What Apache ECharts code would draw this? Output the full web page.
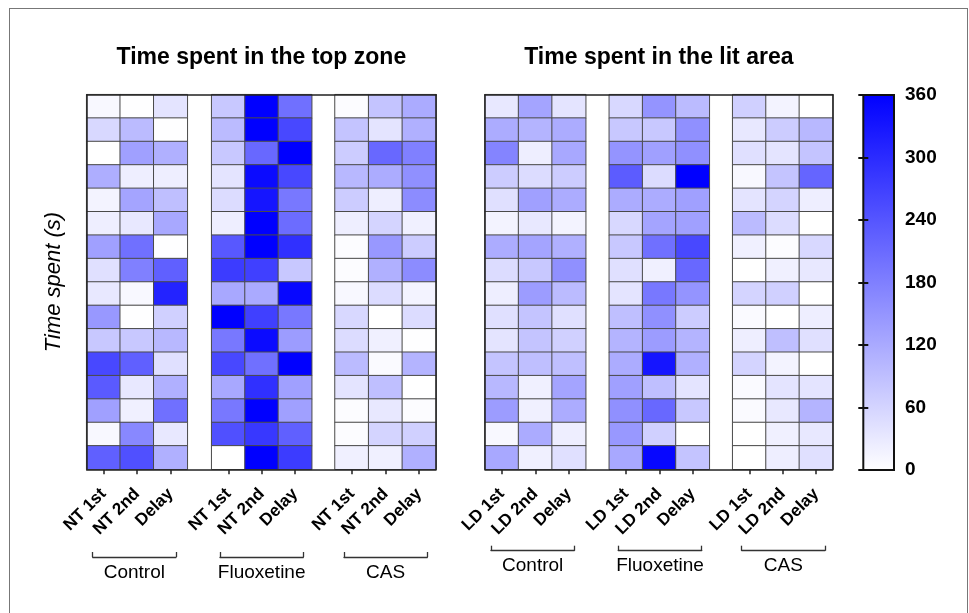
<!DOCTYPE html>
<html>
<head>
<meta charset="utf-8">
<script src="https://cdn.jsdelivr.net/npm/echarts@6/dist/echarts.min.js"></script>
<style>
html,body{margin:0;padding:0;background:#fff;}
#chart{width:969px;height:613px;position:absolute;left:0;top:0;}
#frame{position:absolute;left:9px;top:8px;width:957px;height:640px;border:1px solid #777;pointer-events:none;}
</style>
</head>
<body>
<div id="chart"></div>
<div id="frame"></div>
<script>
// ---------- DATA (16 animals per column) ----------
// Time spent in the top zone
const topCtrlNT1   = [10, 55, 0, 115, 17, 24, 134, 44, 32, 145, 78, 258, 233, 134, 10, 225];
const topCtrlNT2   = [2, 96, 134, 24, 128, 32, 202, 180, 10, 2, 78, 225, 32, 21, 168, 247];
const topCtrlDelay = [38, 2, 112, 24, 90, 123, 2, 225, 310, 66, 100, 44, 112, 202, 32, 112];
const topFluNT1    = [78, 96, 78, 38, 50, 24, 236, 275, 123, 360, 190, 258, 123, 190, 247, 0];
const topFluNT2    = [360, 360, 213, 345, 330, 360, 360, 270, 120, 270, 345, 202, 292, 360, 281, 360];
const topFluDelay  = [202, 258, 360, 258, 190, 208, 292, 78, 350, 190, 140, 360, 134, 134, 225, 275];
const topCasNT1    = [4, 84, 72, 100, 72, 24, 4, 4, 10, 55, 50, 96, 38, 4, 4, 21];
const topCasNT2    = [84, 38, 213, 117, 24, 61, 145, 112, 50, 0, 21, 7, 90, 32, 61, 21];
const topCasDelay  = [118, 112, 180, 157, 162, 21, 72, 162, 17, 50, 2, 106, 0, 4, 66, 112];
// Time spent in the lit area
const litCtrlLD1   = [32, 117, 174, 72, 44, 17, 117, 50, 24, 44, 38, 84, 100, 140, 10, 123];
const litCtrlLD2   = [128, 106, 24, 50, 134, 32, 128, 78, 140, 84, 84, 90, 21, 21, 118, 21];
const litCtrlDelay = [38, 117, 123, 72, 117, 17, 112, 157, 96, 44, 66, 90, 128, 117, 24, 44];
const litFluLD1    = [55, 78, 151, 230, 117, 55, 78, 44, 38, 90, 106, 117, 134, 157, 145, 123];
const litFluLD2    = [151, 78, 134, 50, 117, 128, 202, 21, 190, 157, 140, 330, 90, 213, 66, 350];
const litFluDelay  = [96, 157, 157, 360, 134, 134, 258, 213, 151, 72, 106, 112, 38, 78, 0, 84];
const litCasLD1    = [66, 32, 44, 10, 38, 96, 21, 0, 61, 7, 24, 61, 7, 7, 0, 0];
const litCasLD2    = [17, 72, 38, 84, 61, 50, 4, 21, 66, 0, 90, 17, 38, 32, 21, 24];
const litCasDelay  = [0, 100, 84, 218, 24, 0, 55, 32, 0, 24, 44, 0, 38, 106, 32, 44];

const topTickLabels = ['NT 1st', 'NT 2nd', 'Delay'];
const litTickLabels = ['LD 1st', 'LD 2nd', 'Delay'];
const groupNames = ['Control', 'Fluoxetine', 'CAS'];
const panelTitles = ['Time spent in the top zone', 'Time spent in the lit area'];
const yAxisTitle = 'Time spent (s)';
const scaleMin = 0, scaleMax = 360, scaleStep = 60;

// ---------- LAYOUT ----------
const FONT = 'Liberation Sans, Arial, Helvetica, sans-serif';
const groupColumns = [
  [topCtrlNT1, topCtrlNT2, topCtrlDelay],
  [topFluNT1, topFluNT2, topFluDelay],
  [topCasNT1, topCasNT2, topCasDelay],
  [litCtrlLD1, litCtrlLD2, litCtrlDelay],
  [litFluLD1, litFluLD2, litFluDelay],
  [litCasLD1, litCasLD2, litCasDelay]
];
const hmTop = 94.7, hmHeight = 374.6;
const hmLeft = [86.7, 211.7, 335, 485, 609.3, 732.7];
const hmWidth = [100.6, 100, 101, 100.7, 100, 100];
const framePos = [[86.7, 349.3], [485, 347.7]];
const bracketPos = [[92.7, 176, 557], [220, 303.3, 557], [344, 427.3, 557],
                    [491, 574.3, 550.7], [618.3, 701.7, 550.7], [741.7, 825, 550.7]];
const rowNames = topCtrlNT1.map((_, i) => String(i + 1));

const grid = [], xAxis = [], yAxis = [], series = [];

// heatmap grids
for (let g = 0; g < 6; g++) {
  grid.push({left: hmLeft[g], top: hmTop, width: hmWidth[g], height: hmHeight});
  xAxis.push({
    gridIndex: grid.length - 1, type: 'category',
    data: g < 3 ? topTickLabels : litTickLabels,
    axisLine: {show: false},
    axisTick: {show: true, alignWithLabel: true, length: 5, lineStyle: {color: '#222', width: 1.5}},
    axisLabel: {interval: 0, rotate: 45, margin: 22, fontSize: 17, fontWeight: 'bold', color: '#000', fontFamily: FONT},
    splitLine: {show: false}
  });
  yAxis.push({gridIndex: grid.length - 1, type: 'category', data: rowNames, inverse: true, show: false});
  const data = [];
  groupColumns[g].forEach((col, c) => col.forEach((v, r) => data.push([c, r, v])));
  series.push({
    type: 'heatmap', xAxisIndex: xAxis.length - 1, yAxisIndex: yAxis.length - 1,
    data: data, itemStyle: {borderColor: '#4a4a4a', borderWidth: 1},
    emphasis: {disabled: true}
  });
}

// frame grids (panel outlines + titles + y title)
const lineAxis = (extra) => Object.assign({
  type: 'value', min: 0, max: 1, z: 10,
  axisLine: {show: true, onZero: false, lineStyle: {color: '#222', width: 1.5}},
  axisTick: {show: false}, axisLabel: {show: false}, splitLine: {show: false}
}, extra);
for (let p = 0; p < 2; p++) {
  grid.push({left: framePos[p][0], top: hmTop, width: framePos[p][1], height: hmHeight});
  const gi = grid.length - 1;
  xAxis.push(lineAxis({gridIndex: gi, position: 'bottom'}));
  xAxis.push(lineAxis({gridIndex: gi, position: 'top', name: panelTitles[p], nameLocation: 'middle', nameGap: 26,
    nameTextStyle: {fontSize: 23, fontWeight: 'bold', color: '#000', fontFamily: FONT}}));
  const leftY = {gridIndex: gi, position: 'left'};
  if (p === 0) Object.assign(leftY, {name: yAxisTitle, nameLocation: 'middle', nameRotate: 90, nameGap: 22,
    nameTextStyle: {fontSize: 22, fontStyle: 'italic', color: '#000', fontFamily: FONT}});
  yAxis.push(lineAxis(leftY));
  yAxis.push(lineAxis({gridIndex: gi, position: 'right'}));
}

// colour bar grid
grid.push({
  left: 863.3, top: 95, width: 30.7, height: 375, show: true, borderColor: '#111', borderWidth: 2,
  backgroundColor: new echarts.graphic.LinearGradient(0, 0, 0, 1, [{offset: 0, color: '#0000ff'}, {offset: 1, color: '#ffffff'}])
});
{
  const gi = grid.length - 1;
  xAxis.push({gridIndex: gi, type: 'value', show: false, min: 0, max: 1});
  const cbAxis = (pos, labels) => ({
    gridIndex: gi, type: 'value', position: pos, min: scaleMin, max: scaleMax, interval: scaleStep, z: 10,
    axisLine: {show: false},
    axisTick: {show: true, inside: true, length: 5, lineStyle: {color: '#111', width: 2}},
    axisLabel: {show: labels, margin: 11, fontSize: 19, fontWeight: 'bold', color: '#000', fontFamily: FONT},
    splitLine: {show: false}
  });
  yAxis.push(cbAxis('right', true));
  yAxis.push(cbAxis('left', false));
}

// group brackets
for (let b = 0; b < 6; b++) {
  const [x0, x1, y] = bracketPos[b];
  grid.push({left: x0, top: y - 1, width: x1 - x0, height: 1});
  const gi = grid.length - 1;
  xAxis.push({
    gridIndex: gi, type: 'value', min: 0, max: 1, interval: 1, position: 'bottom',
    axisLine: {show: true, onZero: false, lineStyle: {color: '#333', width: 1.3}},
    axisTick: {show: true, inside: true, length: 5, lineStyle: {color: '#333', width: 1.3}},
    axisLabel: {show: false}, splitLine: {show: false},
    name: groupNames[b % 3], nameLocation: 'middle', nameGap: 6,
    nameTextStyle: {fontSize: 19, color: '#000', fontFamily: FONT, verticalAlign: 'top'}
  });
  yAxis.push({gridIndex: gi, type: 'value', show: false});
}

const chart = echarts.init(document.getElementById('chart'), null, {renderer: 'canvas'});
chart.setOption({
  animation: false,
  backgroundColor: '#ffffff',
  textStyle: {fontFamily: FONT},
  grid: grid, xAxis: xAxis, yAxis: yAxis,
  visualMap: {
    type: 'continuous', show: false, min: scaleMin, max: scaleMax, dimension: 2,
    seriesIndex: [0, 1, 2, 3, 4, 5],
    inRange: {color: ['#ffffff', '#0000ff']}
  },
  series: series
});
</script>
</body>
</html>
